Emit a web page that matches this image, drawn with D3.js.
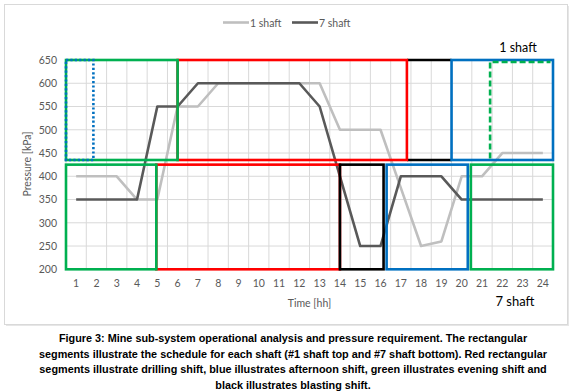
<!DOCTYPE html>
<html><head><meta charset="utf-8">
<script src="https://cdn.jsdelivr.net/npm/d3@7"></script>
<style>
html,body{margin:0;padding:0;background:#fff;}
svg{display:block;}
</style></head>
<body><svg id="c" width="580" height="392"></svg>
<script>
// ---- data ----
const hours = [1,2,3,4,5,6,7,8,9,10,11,12,13,14,15,16,17,18,19,20,21,22,23,24];
const shaft1 = [400,400,400,350,350,550,550,600,600,600,600,600,600,500,500,500,375,250,260,400,400,450,450,450];
const shaft7 = [350,350,350,350,550,550,600,600,600,600,600,600,550,400,250,250,400,400,400,350,350,350,350,350];
const yTicks = [200,250,300,350,400,450,500,550,600,650];
const seriesNames = ["1 shaft","7 shaft"];
// shift schedule rectangles (hour position, kPa band)
const shaft1Band = [435, 650];
const shaft7Band = [200, 425];
const shaft1Shifts = [
  {shift:"blasting", from:17.3, to:19.5, sides:"tb"},
  {shift:"drilling", from:6, to:17.3},
  {shift:"afternoon", from:19.5, to:24.5},
  {shift:"evening", from:0.5, to:6}
];
const shaft1Overlays = [
  {shift:"afternoon", from:0.5, to:1.85, style:"dotted"},
  {shift:"evening", from:21.4, to:24.5, style:"dashed"}
];
const shaft7Shifts = [
  {shift:"drilling", from:4.95, to:14},
  {shift:"blasting", from:14, to:16.15},
  {shift:"afternoon", from:16.3, to:20.3},
  {shift:"evening", from:20.45, to:24.5},
  {shift:"evening", from:0.5, to:4.95}
];
const captionLines = [
  "Figure 3: Mine sub-system operational analysis and pressure requirement. The rectangular",
  "segments illustrate the schedule for each shaft (#1 shaft top and #7 shaft bottom). Red rectangular",
  "segments illustrate drilling shift, blue illustrates afternoon shift, green illustrates evening shift and",
  "black illustrates blasting shift."
];

// ---- styles ----
const shiftColor = {drilling:"#ff0000", afternoon:"#0070c0", evening:"#00b050", blasting:"#000000"};
const lineColor = ["#bfbfbf", "#595959"];
const font = "Lato, 'Open Sans', sans-serif";

const svg = d3.select("#c");
const L = 66, R = 553, T = 60, B = 269.3;

// chart frame with light shadow
svg.append("rect").attr("x",6).attr("y",6).attr("width",563).attr("height",320).attr("fill","#e6e6e6");
svg.append("rect").attr("x",4.5).attr("y",4.5).attr("width",563).attr("height",320)
  .attr("fill","#fff").attr("stroke","#d9d9d9").attr("stroke-width",1);

const xBand = d3.scaleBand().domain(hours).range([L,R]);
const xPos = v => L + (v - 0.5) * xBand.step();
const y = d3.scaleLinear().domain([200,650]).range([B,T]);

// grid
const g = svg.append("g");
g.selectAll("line.h").data(yTicks).join("line")
  .attr("x1",L).attr("x2",R).attr("y1",d=>y(d)).attr("y2",d=>y(d))
  .attr("stroke","#d9d9d9").attr("stroke-width",1);
const vb = hours.map(h=>xBand(h)).concat([R]);
g.selectAll("line.v").data(vb).join("line")
  .attr("x1",d=>d).attr("x2",d=>d).attr("y1",T).attr("y2",B)
  .attr("stroke","#d9d9d9").attr("stroke-width",1);

// axes
const yAxis = svg.append("g").attr("transform",`translate(${L},0)`)
  .call(d3.axisLeft(y).tickValues(yTicks).tickSize(0).tickPadding(9));
yAxis.select(".domain").remove();
yAxis.selectAll("text").attr("font-family",font).attr("font-size","10.5px").attr("fill","#595959");

const xAxis = svg.append("g").attr("transform",`translate(0,${B})`)
  .call(d3.axisBottom(xBand).tickSize(0).tickPadding(10));
xAxis.select(".domain").remove();
xAxis.selectAll("text").attr("font-family",font).attr("font-size","10.5px").attr("fill","#595959");

svg.append("text").attr("transform","translate(31,164) rotate(-90)")
  .attr("text-anchor","middle").attr("font-family",font).attr("font-size","10.5px").attr("fill","#595959")
  .text("Pressure [kPa]");
svg.append("text").attr("x",(L+R)/2).attr("y",307)
  .attr("text-anchor","middle").attr("font-family",font).attr("font-size","10.5px").attr("fill","#595959")
  .text("Time [hh]");

// lines
const line = d3.line().x((d,i)=>xBand(hours[i])+xBand.bandwidth()/2).y(d=>y(d));
[shaft1, shaft7].forEach((s,k)=>{
  svg.append("path").datum(s).attr("d",line).attr("fill","none")
    .attr("stroke",lineColor[k]).attr("stroke-width",2.6).attr("stroke-linejoin","round");
});

// shift rectangles
function drawBoxes(list, band){
  const y0 = y(band[1]), y1 = y(band[0]);
  list.forEach(b=>{
    const x0 = xPos(b.from), x1 = xPos(b.to);
    if (b.sides === "tb") {
      [y0,y1].forEach(yy=>svg.append("line").attr("x1",x0).attr("x2",x1).attr("y1",yy).attr("y2",yy)
        .attr("stroke",shiftColor[b.shift]).attr("stroke-width",2.6));
    } else {
      svg.append("rect").attr("x",x0).attr("y",y0).attr("width",x1-x0).attr("height",y1-y0)
        .attr("fill","none").attr("stroke",shiftColor[b.shift]).attr("stroke-width",2.6);
    }
  });
}
drawBoxes(shaft1Shifts, shaft1Band);
drawBoxes(shaft7Shifts, shaft7Band);
// overlays (dotted/dashed)
shaft1Overlays.forEach(b=>{
  const x0 = xPos(b.from), x1 = xPos(b.to);
  const y0 = y(shaft1Band[1]), y1 = y(shaft1Band[0]);
  if (b.style === "dotted") {
    svg.append("rect").attr("x",x0).attr("y",y0).attr("width",x1-x0).attr("height",y1-y0)
      .attr("fill","none").attr("stroke",shiftColor[b.shift]).attr("stroke-width",2.6)
      .attr("stroke-dasharray","2.2,2.2");
  } else {
    // dashed: only left and top edges visible (others under the blue box)
    svg.append("path").attr("d",`M${x0},${y1-1.5}V${y0+2}H${x1-2.5}`)
      .attr("fill","none").attr("stroke",shiftColor[b.shift]).attr("stroke-width",2.6)
      .attr("stroke-dasharray","6,3");
  }
});

// shaft labels
svg.append("text").attr("x",518).attr("y",52).attr("text-anchor","middle")
  .attr("font-family",font).attr("font-size","12.5px").attr("fill","#000").text("1 shaft");
svg.append("text").attr("x",515).attr("y",306).attr("text-anchor","middle")
  .attr("font-family",font).attr("font-size","13px").attr("fill","#000").text("7 shaft");

// legend
const lg = [{x:223},{x:292}];
seriesNames.forEach((n,k)=>{
  svg.append("line").attr("x1",lg[k].x).attr("x2",lg[k].x+26).attr("y1",22.5).attr("y2",22.5)
    .attr("stroke",lineColor[k]).attr("stroke-width",2.6);
  svg.append("text").attr("x",lg[k].x+27).attr("y",26.5).attr("font-family",font)
    .attr("font-size","10.5px").attr("fill","#595959").text(n);
});

// caption
svg.selectAll("text.cap").data(captionLines).join("text").attr("class","cap")
  .attr("x",293).attr("y",(d,i)=>342+i*15.6).attr("text-anchor","middle")
  .attr("font-family","'Liberation Sans', Arial, sans-serif").attr("font-weight","bold")
  .attr("font-size","10.85px").attr("fill","#000").text(d=>d);
</script></body></html>
